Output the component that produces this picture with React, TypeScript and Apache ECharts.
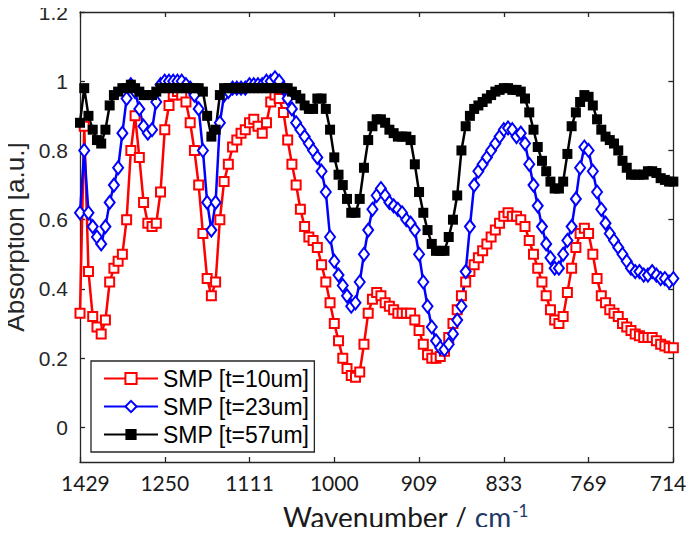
import React, { useEffect, useRef } from "react";
import * as echarts from "echarts";

// Sampling grid in wavelength (µm); the axis is labelled in wavenumber (cm⁻¹ = 10000 / µm).
const wavelengthUm = [
  7.0, 7.05, 7.1, 7.15, 7.2, 7.25, 7.3, 7.35, 7.4, 7.45, 7.5, 7.55, 7.6, 7.65, 7.7, 7.75, 7.8, 7.85, 7.9, 7.95,
  8.0, 8.05, 8.1, 8.15, 8.2, 8.25, 8.3, 8.35, 8.4, 8.45, 8.5, 8.55, 8.6, 8.65, 8.7, 8.75, 8.8, 8.85, 8.9, 8.95,
  9.0, 9.05, 9.1, 9.15, 9.2, 9.25, 9.3, 9.35, 9.4, 9.45, 9.5, 9.55, 9.6, 9.65, 9.7, 9.75, 9.8, 9.85, 9.9, 9.95,
  10.0, 10.05, 10.1, 10.15, 10.2, 10.25, 10.3, 10.35, 10.4, 10.45, 10.5, 10.55, 10.6, 10.65, 10.7, 10.75, 10.8, 10.85, 10.9, 10.95,
  11.0, 11.05, 11.1, 11.15, 11.2, 11.25, 11.3, 11.35, 11.4, 11.45, 11.5, 11.55, 11.6, 11.65, 11.7, 11.75, 11.8, 11.85, 11.9, 11.95,
  12.0, 12.05, 12.1, 12.15, 12.2, 12.25, 12.3, 12.35, 12.4, 12.45, 12.5, 12.55, 12.6, 12.65, 12.7, 12.75, 12.8, 12.85, 12.9, 12.95,
  13.0, 13.05, 13.1, 13.15, 13.2, 13.25, 13.3, 13.35, 13.4, 13.45, 13.5, 13.55, 13.6, 13.65, 13.7, 13.75, 13.8, 13.85, 13.9, 13.95,
  14.0,
];

const absorption10um = [
  0.33, 0.87, 0.45, 0.32, 0.29, 0.27, 0.31, 0.42, 0.46, 0.48, 0.5, 0.6, 0.8, 0.9, 0.78, 0.65, 0.59, 0.58, 0.59, 0.68,
  0.86, 0.93, 0.96, 0.97, 0.96, 0.94, 0.88, 0.8, 0.7, 0.56, 0.43, 0.38, 0.42, 0.6, 0.71, 0.76, 0.81, 0.83, 0.85, 0.86,
  0.88, 0.89, 0.87, 0.85, 0.88, 0.94, 0.96, 0.95, 0.91, 0.83, 0.76, 0.7, 0.63, 0.58, 0.55, 0.54, 0.52, 0.47, 0.42, 0.36,
  0.3, 0.25, 0.2, 0.17, 0.15, 0.145, 0.16, 0.24, 0.33, 0.37, 0.39, 0.38, 0.36, 0.35, 0.34, 0.33, 0.33, 0.33, 0.33, 0.31,
  0.28, 0.24, 0.21, 0.2, 0.2, 0.205, 0.22, 0.26, 0.3, 0.34, 0.38, 0.42, 0.45, 0.47, 0.49, 0.51, 0.53, 0.55, 0.57, 0.59,
  0.61, 0.62, 0.61, 0.61, 0.6, 0.58, 0.54, 0.5, 0.46, 0.42, 0.38, 0.34, 0.31, 0.3, 0.32, 0.39, 0.46, 0.52, 0.56, 0.575,
  0.56, 0.5, 0.43, 0.38, 0.36, 0.34, 0.33, 0.32, 0.3, 0.29, 0.28, 0.27, 0.265, 0.26, 0.26, 0.26, 0.25, 0.24, 0.235, 0.23,
  0.23,
];

const absorption23um = [
  0.62, 0.8, 0.62, 0.58, 0.55, 0.53, 0.58, 0.65, 0.7, 0.75, 0.85, 0.95, 0.99, 0.97, 0.92, 0.87, 0.85, 0.86, 0.94, 0.99,
  1.0, 1.0, 1.0, 1.0, 1.0, 0.99, 0.98, 0.96, 0.92, 0.8, 0.65, 0.57, 0.65, 0.88, 0.96, 0.97, 0.98, 0.98, 0.98, 0.98,
  0.99, 0.99, 0.99, 0.99, 1.0, 1.0, 1.01, 1.0, 0.98, 0.95, 0.92, 0.88, 0.86, 0.84, 0.82, 0.8, 0.78, 0.74, 0.68, 0.55,
  0.48, 0.44, 0.41, 0.38, 0.35, 0.36, 0.42, 0.5, 0.57, 0.63, 0.67, 0.69, 0.67, 0.65, 0.64, 0.63, 0.62, 0.6, 0.59, 0.57,
  0.5, 0.42, 0.35, 0.29, 0.25, 0.23, 0.225, 0.24, 0.27, 0.31, 0.35, 0.45, 0.58, 0.7, 0.74, 0.76, 0.78, 0.8, 0.82, 0.84,
  0.86, 0.865, 0.86, 0.84, 0.85, 0.82, 0.76, 0.7, 0.64, 0.58, 0.53, 0.49, 0.46, 0.46, 0.5, 0.54, 0.58, 0.66, 0.75, 0.81,
  0.8, 0.74, 0.68, 0.63, 0.59, 0.56, 0.54, 0.52, 0.5, 0.48, 0.46, 0.45, 0.45, 0.44, 0.44, 0.45, 0.44, 0.43, 0.43, 0.42,
  0.43,
];

const absorption57um = [
  0.88, 0.98, 0.9, 0.86, 0.83, 0.82, 0.86, 0.93, 0.96, 0.97, 0.98, 0.98, 0.99, 0.98, 0.97, 0.96, 0.96, 0.96, 0.97, 0.98,
  0.98, 0.98, 0.98, 0.98, 0.98, 0.98, 0.98, 0.98, 0.98, 0.97, 0.9, 0.84, 0.86, 0.96, 0.98, 0.98, 0.98, 0.98, 0.98, 0.98,
  0.98, 0.98, 0.98, 0.98, 0.98, 0.98, 0.98, 0.98, 0.98, 0.98, 0.97, 0.96, 0.95, 0.93, 0.92, 0.92, 0.95, 0.95, 0.92, 0.86,
  0.78, 0.73, 0.7, 0.66, 0.62, 0.62, 0.66, 0.75, 0.83, 0.87, 0.89, 0.89, 0.88, 0.86, 0.85, 0.84, 0.84, 0.84, 0.83, 0.76,
  0.68, 0.62, 0.57, 0.53, 0.51, 0.51, 0.51, 0.55, 0.6, 0.67, 0.8, 0.87, 0.9, 0.92, 0.93, 0.94, 0.95, 0.96, 0.97, 0.975,
  0.98, 0.98, 0.975, 0.975, 0.97, 0.95, 0.91, 0.86, 0.81, 0.77, 0.74, 0.71, 0.69, 0.69, 0.71, 0.79, 0.87, 0.91, 0.94, 0.96,
  0.955, 0.93, 0.89, 0.86, 0.84, 0.83, 0.82, 0.8, 0.77, 0.75, 0.73, 0.73, 0.73, 0.73, 0.74, 0.74, 0.735, 0.72, 0.715, 0.71,
  0.71,
];

const seriesNames = ["SMP [t=10um]", "SMP [t=23um]", "SMP [t=57um]"];
const yTickValues = [0, 0.2, 0.4, 0.6, 0.8, 1, 1.2];

const AXIS_COLOR = "#262626";
const NBSP2 = "\u00a0\u00a0";

function pairs(ys: number[]) {
  return wavelengthUm.map((x, i) => [x, ys[i]]);
}

export default function App() {
  const ref = useRef<HTMLDivElement>(null);

  useEffect(() => {
    if (!ref.current) return;
    const chart = echarts.init(ref.current, null, { renderer: "svg" });

    const xCommon = {
      type: "value" as const,
      min: 7,
      max: 14,
      interval: 1,
      splitLine: { show: false },
      axisLine: { show: true, onZero: false, lineStyle: { color: AXIS_COLOR, width: 1.3 } },
      axisTick: { show: true, inside: true, length: 5, lineStyle: { color: AXIS_COLOR, width: 1.3 } },
    };
    const yCommon = {
      type: "value" as const,
      min: -0.1,
      max: 1.2,
      splitLine: { show: false },
      axisLine: { show: true, onZero: false, lineStyle: { color: AXIS_COLOR, width: 1.3 } },
      axisTick: {
        show: true,
        inside: true,
        length: 5,
        customValues: yTickValues,
        lineStyle: { color: AXIS_COLOR, width: 1.3 },
      },
    };

    chart.setOption({
      animation: false,
      backgroundColor: "#ffffff",
      grid: { left: 80, top: 12, right: 19, bottom: 73, containLabel: false },
      xAxis: [
        {
          ...xCommon,
          position: "bottom",
          axisLabel: {
            show: true,
            margin: 10,
            color: "#1a1a1a",
            fontFamily: "Lato",
            fontSize: 21,
            formatter: (v: number) => {
              const txt = String(Math.round(10000 / v));
              // keep the end labels a little inside the frame
              if (v <= 7) return NBSP2 + txt;
              if (v >= 14) return txt + NBSP2;
              return txt;
            },
          },
        },
        { ...xCommon, position: "top", axisLabel: { show: false } },
      ],
      yAxis: [
        {
          ...yCommon,
          position: "left",
          axisLabel: {
            show: true,
            margin: 12,
            color: AXIS_COLOR,
            fontFamily: "Liberation Sans",
            fontSize: 21,
            customValues: yTickValues,
          },
        },
        { ...yCommon, position: "right", axisLabel: { show: false } },
      ],
      legend: {
        orient: "vertical",
        left: 91,
        top: 361,
        backgroundColor: "#ffffff",
        borderColor: AXIS_COLOR,
        borderWidth: 1.3,
        borderRadius: 0,
        padding: [6, 5, 6, 12],
        itemGap: 5,
        itemWidth: 54,
        itemHeight: 14,
        textStyle: { fontFamily: "Liberation Sans", fontSize: 23, color: "#000", lineHeight: 22 },
        data: seriesNames,
      },
      graphic: [
        {
          type: "text",
          x: 15,
          y: 237,
          rotation: Math.PI / 2,
          style: {
            text: "Absorption [a.u.]",
            fill: AXIS_COLOR,
            font: '26px "Liberation Sans"',
            align: "center",
            verticalAlign: "middle",
          },
        },
        {
          type: "text",
          x: 283,
          y: 517,
          style: {
            text: "{a|Wavenumber / }{b|cm}{c|-1}",
            verticalAlign: "middle",
            align: "left",
            rich: {
              a: { fontFamily: "Lato", fontSize: 28, fill: "#1a1a1a", color: "#1a1a1a" },
              b: { fontFamily: "Lato", fontSize: 28, fill: "#1f3864", color: "#1f3864" },
              c: {
                fontFamily: "Lato",
                fontSize: 17,
                fill: "#1f3864",
                color: "#1f3864",
                verticalAlign: "top",
                padding: [0, 0, 13, 1],
              },
            },
          },
        },
      ],
      series: [
        {
          name: seriesNames[0],
          type: "line",
          data: pairs(absorption10um),
          clip: false,
          symbol: "emptyRect",
          symbolSize: 9,
          color: "#ff0000",
          lineStyle: { color: "#ff0000", width: 2.5 },
          itemStyle: { color: "#ff0000", borderWidth: 2 },
        },
        {
          name: seriesNames[1],
          type: "line",
          data: pairs(absorption23um),
          clip: false,
          symbol: "emptyDiamond",
          symbolSize: [10, 13],
          color: "#0000ff",
          lineStyle: { color: "#0000ff", width: 2.5 },
          itemStyle: { color: "#0000ff", borderWidth: 2 },
        },
        {
          name: seriesNames[2],
          type: "line",
          data: pairs(absorption57um),
          clip: false,
          symbol: "rect",
          symbolSize: 10,
          color: "#000000",
          lineStyle: { color: "#000000", width: 2.5 },
          itemStyle: { color: "#000000" },
        },
      ],
    });

    return () => chart.dispose();
  }, []);

  return <div ref={ref} style={{ width: 700, height: 535, margin: -8 }} />;
}
